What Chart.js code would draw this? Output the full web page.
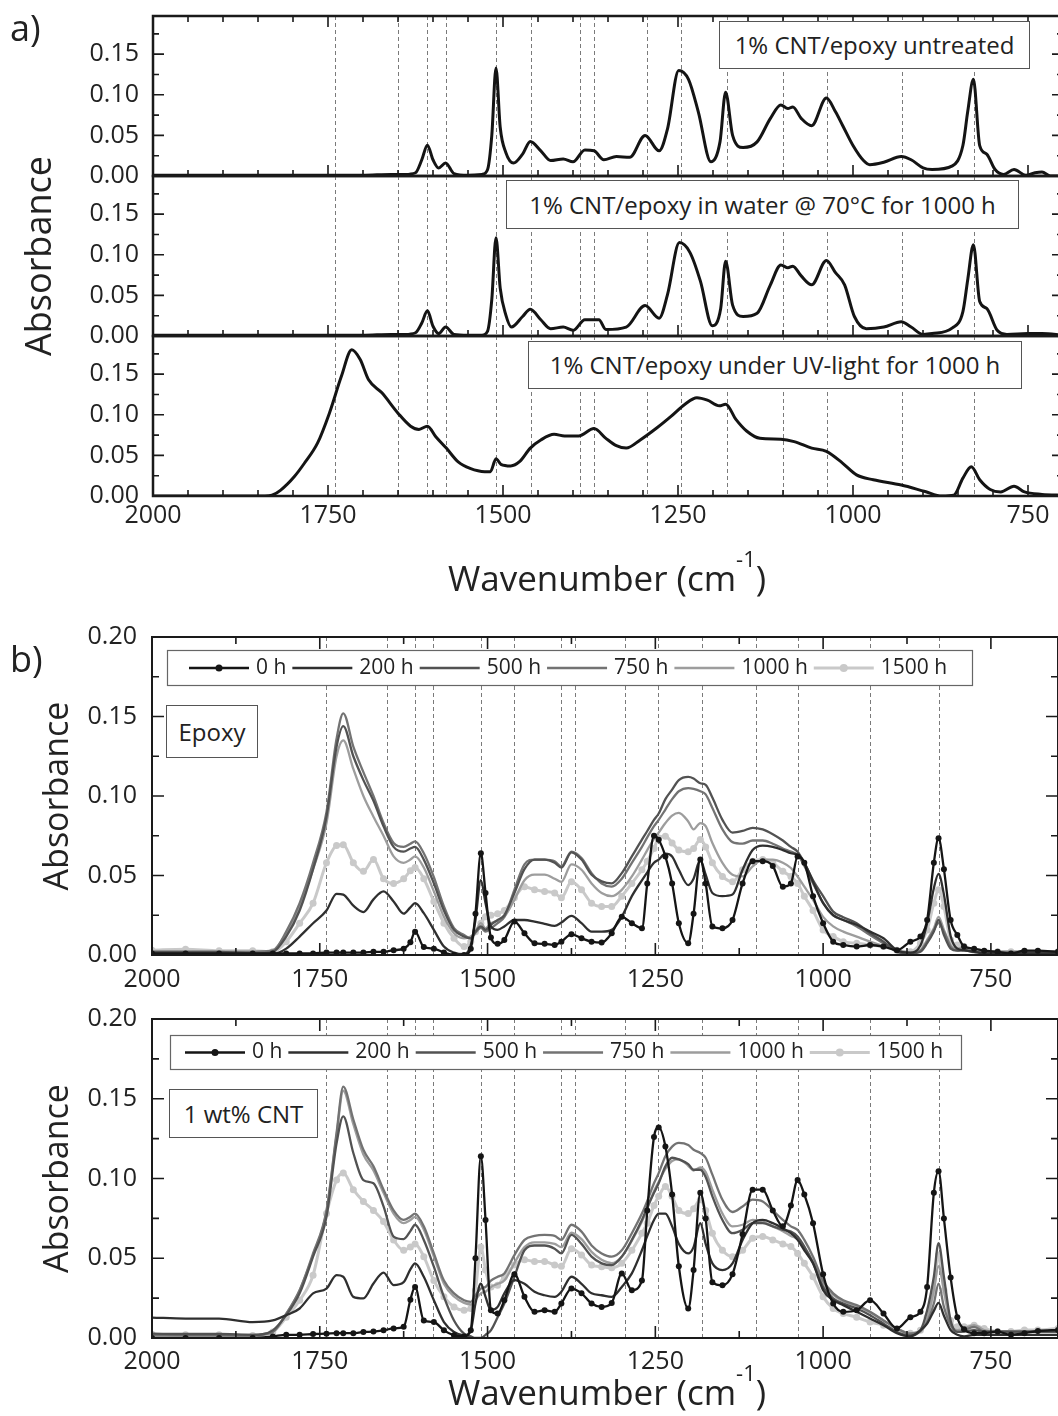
<!DOCTYPE html>
<html>
<head>
<meta charset="utf-8">
<script src="https://cdn.jsdelivr.net/npm/chart.js@4.4.0/dist/chart.umd.min.js"></script>
<style>
body { margin:0; width:1058px; height:1416px; overflow:hidden; background:#fff; position:relative; font-family:"Open Sans", sans-serif; color:#222; }
canvas { position:absolute; left:0; }
.tag { position:absolute; background:#fff; border:1.5px solid #555; box-sizing:border-box; font-size:24px; line-height:1; display:flex; align-items:center; justify-content:center; white-space:nowrap; }
.lbl { position:absolute; left:10px; font-size:36px; line-height:1; }
.xt { position:absolute; left:307px; width:600px; text-align:center; font-size:35px; line-height:1; white-space:nowrap; }
.xt span { font-size:22px; position:relative; top:-24px; }
</style>
</head>
<body>
<canvas id="a1" width="1063" height="240" style="top:-24px"></canvas>
<canvas id="a2" width="1063" height="240" style="top:136px"></canvas>
<canvas id="a3" width="1063" height="250" style="top:296px"></canvas>
<canvas id="b1" width="1062" height="408" style="top:597px"></canvas>
<canvas id="b2" width="1062" height="409" style="top:979px"></canvas>

<div class="lbl" style="top:10px">a)</div>
<div class="lbl" style="top:641px">b)</div>
<div class="tag" style="left:719px;top:21px;width:311px;height:48px">1% CNT/epoxy untreated</div>
<div class="tag" style="left:506px;top:180px;width:513px;height:49px">1% CNT/epoxy in water @ 70°C for 1000 h</div>
<div class="tag" style="left:528px;top:341px;width:494px;height:48px">1% CNT/epoxy under UV-light for 1000 h</div>
<div class="tag" style="left:166px;top:705px;width:92px;height:53px">Epoxy</div>
<div class="tag" style="left:169px;top:1089px;width:149px;height:49px">1 wt% CNT</div>
<div class="xt" style="top:560px">Wavenumber (cm<span>-1</span>)</div>
<div class="xt" style="top:1374px">Wavenumber (cm<span>-1</span>)</div>

<script>
// band positions (dashed guides) and tick labels
var bands = [1740, 1650, 1608, 1581, 1510, 1460, 1390, 1370, 1295, 1246, 1180, 1100, 1037, 930, 827];
var xTicks = [2000, 1750, 1500, 1250, 1000, 750];
var yTicksA = [0, 0.05, 0.10, 0.15];
var yTicksB = [0, 0.05, 0.10, 0.15, 0.20];

// panel a) spectra
var untreatedWn = [2000, 1900, 1800, 1700, 1660, 1640, 1625, 1616, 1608, 1600,
  1592, 1582, 1570, 1550, 1530, 1522, 1516, 1510, 1504, 1496,
  1485, 1472, 1461, 1446, 1432, 1414, 1400, 1383, 1370, 1356,
  1338, 1319, 1297, 1277, 1265, 1249, 1235, 1221, 1203, 1190,
  1182, 1172, 1157, 1137, 1118, 1103, 1093, 1086, 1074, 1059,
  1038, 1025, 1015, 1000, 985, 976, 956, 931, 917, 900,
  887, 858, 843, 836, 828, 819, 809, 797, 785, 770,
  753, 740, 730, 718, 700];
var untreatedAbs = [0.001, 0.001, 0.001, 0.001, 0.002, 0.002, 0.004, 0.02, 0.038, 0.02,
  0.01, 0.016, 0.003, 0.001, 0.002, 0.008, 0.05, 0.133, 0.06, 0.029,
  0.016, 0.027, 0.0425, 0.031, 0.019, 0.021, 0.0175, 0.032, 0.031, 0.02,
  0.024, 0.023, 0.05, 0.031, 0.058, 0.130, 0.119, 0.079, 0.0175, 0.042,
  0.103, 0.05, 0.035, 0.042, 0.071, 0.0875, 0.083, 0.085, 0.071, 0.062,
  0.096, 0.079, 0.0625, 0.0375, 0.019, 0.014, 0.017, 0.024, 0.02, 0.010,
  0.008, 0.0125, 0.0375, 0.08, 0.119, 0.0375, 0.027, 0.008, 0.002, 0.008,
  0.001, 0.004, 0.005, 0.0, 0.0];

var waterWn = [2000, 1900, 1800, 1700, 1660, 1640, 1625, 1616, 1608, 1600,
  1592, 1582, 1570, 1550, 1530, 1522, 1516, 1510, 1504, 1496,
  1488, 1472, 1461, 1446, 1432, 1414, 1400, 1383, 1363, 1353,
  1324, 1297, 1277, 1265, 1248, 1233, 1218, 1201, 1189, 1182,
  1172, 1157, 1137, 1118, 1103, 1093, 1086, 1074, 1059, 1038,
  1025, 1012, 998, 981, 956, 931, 917, 900, 887, 858,
  843, 836, 828, 819, 809, 794, 780, 750, 730, 700];
var waterAbs = [0.001, 0.001, 0.001, 0.001, 0.002, 0.002, 0.004, 0.016, 0.031, 0.012,
  0.003, 0.011, 0.002, 0.001, 0.001, 0.006, 0.045, 0.121, 0.059, 0.026,
  0.011, 0.024, 0.033, 0.02, 0.009, 0.011, 0.007, 0.02, 0.02, 0.008,
  0.011, 0.0375, 0.022, 0.051, 0.115, 0.103, 0.0675, 0.0125, 0.034, 0.092,
  0.038, 0.024, 0.028, 0.063, 0.0875, 0.084, 0.086, 0.074, 0.063, 0.093,
  0.078, 0.063, 0.024, 0.009, 0.011, 0.0175, 0.011, 0.002, 0.003, 0.01,
  0.03, 0.07, 0.1125, 0.0425, 0.034, 0.007, 0.002, 0.003, 0.003, 0.001];

var uvWn = [2000, 1900, 1840, 1830, 1818, 1798, 1784, 1765, 1748, 1731,
  1716, 1704, 1692, 1673, 1650, 1632, 1620, 1608, 1596, 1581,
  1564, 1547, 1526, 1518, 1510, 1503, 1489, 1476, 1461, 1446,
  1427, 1412, 1392, 1370, 1353, 1338, 1324, 1304, 1280, 1260,
  1240, 1223, 1208, 1191, 1182, 1167, 1152, 1133, 1103, 1084,
  1059, 1038, 1015, 995, 971, 931, 897, 873, 856, 843,
  831, 819, 804, 789, 770, 755, 730, 700];
var uvAbs = [0, 0, 0, 0.001, 0.007, 0.024, 0.04, 0.065, 0.102, 0.147,
  0.180, 0.168, 0.143, 0.127, 0.102, 0.086, 0.082, 0.086, 0.073, 0.059,
  0.042, 0.034, 0.03, 0.03, 0.046, 0.039, 0.037, 0.0425, 0.059, 0.069,
  0.076, 0.074, 0.074, 0.083, 0.071, 0.062, 0.059, 0.069, 0.084, 0.098,
  0.113, 0.121, 0.118, 0.111, 0.113, 0.094, 0.08, 0.071, 0.070, 0.067,
  0.059, 0.055, 0.0405, 0.026, 0.02, 0.0135, 0.0055, 0, 0.001, 0.022,
  0.036, 0.02, 0.008, 0.005, 0.012, 0.005, 0.002, 0.001];

// panel b) shared wavenumber grid
var bWn = [2000, 1950, 1900, 1850, 1820, 1800, 1780, 1760, 1740, 1725,
  1715, 1700, 1685, 1670, 1655, 1640, 1625, 1615, 1608, 1595,
  1580, 1565, 1550, 1535, 1525, 1518, 1510, 1503, 1495, 1485,
  1475, 1460, 1445, 1430, 1415, 1400, 1390, 1375, 1360, 1345,
  1330, 1315, 1300, 1285, 1270, 1262, 1252, 1245, 1235, 1225,
  1215, 1201, 1193, 1183, 1175, 1165, 1150, 1135, 1120, 1105,
  1090, 1075, 1060, 1048, 1038, 1028, 1015, 1000, 985, 970,
  950, 930, 910, 890, 870, 855, 845, 835, 828, 820,
  810, 800, 790, 775, 760, 740, 720, 700, 680, 650];

var seriesNames = ['0 h', '200 h', '500 h', '750 h', '1000 h', '1500 h'];

// Epoxy
var epoxy0h = [0.001, 0.001, 0.001, 0.001, 0.001, 0.001, 0.001, 0.001, 0.0015, 0.0015,
  0.0015, 0.0015, 0.0015, 0.002, 0.002, 0.003, 0.004, 0.008, 0.0147, 0.005,
  0.004, 0.0015, 0.0, 0.0, 0.004, 0.026, 0.064, 0.039, 0.011, 0.007,
  0.0095, 0.021, 0.0137, 0.0074, 0.007, 0.0063, 0.0084, 0.013, 0.0105, 0.0084,
  0.0078, 0.0137, 0.024, 0.02, 0.0168, 0.045, 0.075, 0.0725, 0.062, 0.045,
  0.02, 0.0074, 0.026, 0.06, 0.045, 0.018, 0.0168, 0.022, 0.045, 0.059,
  0.059, 0.056, 0.043, 0.045, 0.062, 0.058, 0.037, 0.02, 0.0084, 0.0063,
  0.0053, 0.0063, 0.0053, 0.003, 0.0084, 0.0116, 0.022, 0.058, 0.0735, 0.054,
  0.022, 0.0126, 0.0053, 0.004, 0.0027, 0.002, 0.001, 0.0027, 0.0027, 0.002];
var epoxy200h = [0.0005, 0.0005, 0.0005, 0.0005, 0.0006, 0.004, 0.0116, 0.02, 0.028, 0.0385,
  0.038, 0.031, 0.027, 0.035, 0.040, 0.0337, 0.026, 0.030, 0.0326, 0.0263,
  0.0158, 0.0053, 0.0015, 0.0005, 0.0063, 0.022, 0.047, 0.0326, 0.018, 0.0158,
  0.018, 0.022, 0.022, 0.021, 0.0196, 0.0183, 0.0204, 0.0246, 0.02, 0.0147,
  0.0147, 0.0158, 0.024, 0.037, 0.047, 0.052, 0.058, 0.06, 0.0637, 0.062,
  0.0536, 0.044, 0.048, 0.06, 0.0505, 0.039, 0.037, 0.038, 0.0536, 0.066,
  0.0688, 0.068, 0.066, 0.064, 0.063, 0.058, 0.046, 0.0326, 0.025, 0.022,
  0.019, 0.0147, 0.0105, 0.003, 0.0015, 0.006, 0.02, 0.042, 0.051, 0.038,
  0.012, 0.004, 0.003, 0.002, 0.001, 0.001, 0.001, 0.001, 0.001, 0.001];
var epoxy500h = [0.002, 0.002, 0.002, 0.001, 0.002, 0.0116, 0.028, 0.054, 0.087, 0.131,
  0.144, 0.125, 0.11, 0.097, 0.081, 0.068, 0.065, 0.067, 0.068, 0.06,
  0.045, 0.028, 0.0158, 0.0116, 0.0105, 0.0147, 0.018, 0.0158, 0.019, 0.022,
  0.025, 0.039, 0.054, 0.06, 0.06, 0.058, 0.055, 0.0646, 0.06, 0.0505,
  0.0463, 0.045, 0.0515, 0.062, 0.0726, 0.078, 0.085, 0.089, 0.098, 0.104,
  0.110, 0.112, 0.111, 0.108, 0.107, 0.099, 0.085, 0.077, 0.078, 0.080,
  0.079, 0.076, 0.072, 0.068, 0.065, 0.058, 0.047, 0.037, 0.0273, 0.0238,
  0.02, 0.0137, 0.0084, 0.002, 0.001, 0.002, 0.0074, 0.0147, 0.022, 0.0126,
  0.004, 0.0027, 0.003, 0.002, 0.001, 0.001, 0.001, 0.001, 0.001, 0.001];
var epoxy750h = [0.002, 0.002, 0.002, 0.002, 0.0027, 0.0147, 0.0326, 0.058, 0.09, 0.136,
  0.152, 0.131, 0.115, 0.10, 0.083, 0.0705, 0.068, 0.070, 0.0715, 0.064,
  0.049, 0.0305, 0.0168, 0.0126, 0.0105, 0.014, 0.017, 0.0147, 0.0168, 0.02,
  0.024, 0.041, 0.057, 0.06, 0.06, 0.059, 0.0557, 0.065, 0.061, 0.0515,
  0.045, 0.043, 0.048, 0.058, 0.068, 0.074, 0.081, 0.085, 0.0915, 0.098,
  0.103, 0.105, 0.1045, 0.103, 0.101, 0.0925, 0.079, 0.071, 0.070, 0.072,
  0.072, 0.070, 0.067, 0.065, 0.063, 0.056, 0.045, 0.033, 0.025, 0.022,
  0.018, 0.0126, 0.0074, 0.0027, 0.001, 0.0027, 0.0084, 0.0158, 0.020, 0.0147,
  0.0053, 0.003, 0.003, 0.002, 0.002, 0.002, 0.002, 0.002, 0.002, 0.002];
var epoxy1000h = [0.002, 0.002, 0.002, 0.002, 0.003, 0.0137, 0.0305, 0.054, 0.083, 0.125,
  0.135, 0.117, 0.10, 0.087, 0.075, 0.062, 0.058, 0.060, 0.062, 0.055,
  0.04, 0.024, 0.0137, 0.0105, 0.0116, 0.0147, 0.02, 0.0168, 0.02, 0.0217,
  0.024, 0.0347, 0.047, 0.0505, 0.0505, 0.048, 0.046, 0.057, 0.0536, 0.045,
  0.039, 0.037, 0.041, 0.0494, 0.06, 0.066, 0.073, 0.077, 0.083, 0.0877,
  0.0894, 0.084, 0.079, 0.083, 0.081, 0.0705, 0.058, 0.0505, 0.0494, 0.0557,
  0.06, 0.06, 0.058, 0.0547, 0.0494, 0.043, 0.0347, 0.024, 0.018, 0.0147,
  0.0116, 0.0084, 0.0057, 0.003, 0.0015, 0.003, 0.0095, 0.0168, 0.024, 0.0158,
  0.0063, 0.004, 0.005, 0.003, 0.002, 0.002, 0.002, 0.002, 0.002, 0.002];
var epoxy1500h = [0.003, 0.0036, 0.0027, 0.0027, 0.002, 0.0084, 0.02, 0.0326, 0.058, 0.0688,
  0.0694, 0.058, 0.0526, 0.06, 0.048, 0.045, 0.048, 0.053, 0.055, 0.048,
  0.0337, 0.02, 0.0105, 0.0053, 0.0084, 0.0147, 0.02, 0.024, 0.025, 0.026,
  0.028, 0.036, 0.043, 0.041, 0.04, 0.039, 0.036, 0.046, 0.041, 0.0326,
  0.0305, 0.0305, 0.037, 0.045, 0.0536, 0.059, 0.067, 0.0736, 0.0747, 0.0705,
  0.066, 0.065, 0.067, 0.0726, 0.068, 0.058, 0.0494, 0.046, 0.0536, 0.059,
  0.06, 0.058, 0.0526, 0.0494, 0.045, 0.037, 0.028, 0.0158, 0.0116, 0.0084,
  0.0074, 0.0063, 0.0053, 0.003, 0.002, 0.0074, 0.0158, 0.0326, 0.041, 0.0305,
  0.0095, 0.0063, 0.0053, 0.003, 0.002, 0.002, 0.002, 0.002, 0.002, 0.002];

// 1 wt% CNT
var cnt0h = [0, 0, 0, 0, 0.001, 0.002, 0.002, 0.0025, 0.0027, 0.003,
  0.003, 0.003, 0.0038, 0.004, 0.0048, 0.006, 0.007, 0.024, 0.032, 0.011,
  0.01, 0.0048, 0.0017, 0.001, 0.0048, 0.05, 0.114, 0.074, 0.0174, 0.0153,
  0.0237, 0.04, 0.0258, 0.0164, 0.0174, 0.0164, 0.0216, 0.031, 0.028, 0.0216,
  0.0195, 0.022, 0.0405, 0.03, 0.036, 0.08, 0.126, 0.132, 0.12, 0.09,
  0.045, 0.0185, 0.0426, 0.091, 0.075, 0.035, 0.033, 0.04, 0.065, 0.093,
  0.093, 0.08, 0.07, 0.083, 0.099, 0.09, 0.072, 0.04, 0.0216, 0.0164,
  0.0174, 0.0237, 0.0153, 0.006, 0.013, 0.0164, 0.032, 0.091, 0.1046, 0.075,
  0.038, 0.013, 0.0055, 0.003, 0.003, 0.004, 0.002, 0.003, 0.0044, 0.005];
var cnt200h = [0.0128, 0.0122, 0.0122, 0.010, 0.011, 0.0143, 0.0185, 0.028, 0.031, 0.0394,
  0.0384, 0.0258, 0.0248, 0.0342, 0.041, 0.0332, 0.035, 0.043, 0.0468, 0.0384,
  0.0237, 0.01, 0.0038, 0.0017, 0.0048, 0.0216, 0.034, 0.0258, 0.0174, 0.0195,
  0.028, 0.0363, 0.034, 0.029, 0.0268, 0.0258, 0.029, 0.0384, 0.034, 0.028,
  0.0268, 0.0258, 0.032, 0.0405, 0.055, 0.064, 0.074, 0.078, 0.078, 0.07,
  0.059, 0.053, 0.057, 0.072, 0.059, 0.0468, 0.0426, 0.0468, 0.0615, 0.072,
  0.074, 0.072, 0.0688, 0.0657, 0.0615, 0.055, 0.0468, 0.03, 0.0237, 0.0206,
  0.0164, 0.0122, 0.008, 0.003, 0.001, 0.0048, 0.009, 0.017, 0.022, 0.014,
  0.005, 0.002, 0.001, 0.002, 0.002, 0.002, 0.002, 0.002, 0.002, 0.002];
var cnt500h = [0.0027, 0.0025, 0.0025, 0.002, 0.0048, 0.0143, 0.028, 0.051, 0.076, 0.122,
  0.139, 0.116, 0.099, 0.097, 0.0825, 0.0636, 0.062, 0.067, 0.071, 0.0615,
  0.0447, 0.0258, 0.011, 0.0027, 0.001, 0, 0, 0.002, 0.0048, 0.013,
  0.0216, 0.0384, 0.055, 0.058, 0.058, 0.056, 0.053, 0.0646, 0.059, 0.051,
  0.0468, 0.0457, 0.051, 0.0615, 0.074, 0.082, 0.091, 0.097, 0.1076, 0.113,
  0.112, 0.109, 0.1055, 0.1055, 0.101, 0.0888, 0.074, 0.0657, 0.0678, 0.072,
  0.072, 0.07, 0.0678, 0.0667, 0.0636, 0.0573, 0.0468, 0.032, 0.0248, 0.0216,
  0.0185, 0.0143, 0.009, 0.0038, 0.0017, 0.0048, 0.0174, 0.0384, 0.0595, 0.0384,
  0.011, 0.0038, 0.004, 0.005, 0.004, 0.004, 0.004, 0.004, 0.004, 0.004];
var cnt750h = [0.0017, 0.0017, 0.0017, 0.0017, 0.0038, 0.0153, 0.03, 0.053, 0.08, 0.1286,
  0.1576, 0.137, 0.118, 0.1076, 0.093, 0.08, 0.074, 0.076, 0.078, 0.07,
  0.053, 0.036, 0.028, 0.0237, 0.0227, 0.0268, 0.031, 0.032, 0.036, 0.0384,
  0.0405, 0.052, 0.0615, 0.064, 0.0646, 0.064, 0.0615, 0.071, 0.0667, 0.058,
  0.053, 0.051, 0.055, 0.0657, 0.078, 0.086, 0.097, 0.1034, 0.114, 0.12,
  0.1223, 0.121, 0.118, 0.116, 0.113, 0.1024, 0.0867, 0.079, 0.0825, 0.0867,
  0.0856, 0.08, 0.074, 0.07, 0.0678, 0.0615, 0.051, 0.036, 0.028, 0.0237,
  0.0206, 0.0164, 0.011, 0.006, 0.0027, 0.0044, 0.01, 0.0216, 0.034, 0.0195,
  0.008, 0.0038, 0.0048, 0.007, 0.004, 0.004, 0.004, 0.004, 0.004, 0.004];
var cnt1000h = [0.002, 0.002, 0.002, 0.002, 0.004, 0.015, 0.03, 0.052, 0.079, 0.127,
  0.155, 0.134, 0.115, 0.105, 0.091, 0.078, 0.072, 0.074, 0.076, 0.068,
  0.051, 0.034, 0.026, 0.022, 0.021, 0.024, 0.028, 0.029, 0.032, 0.034,
  0.036, 0.047, 0.057, 0.060, 0.060, 0.059, 0.057, 0.066, 0.062, 0.054,
  0.049, 0.047, 0.051, 0.061, 0.073, 0.081, 0.092, 0.098, 0.106, 0.111,
  0.112, 0.108, 0.105, 0.107, 0.104, 0.093, 0.078, 0.07, 0.071, 0.074,
  0.073, 0.07, 0.067, 0.064, 0.062, 0.057, 0.048, 0.034, 0.027, 0.023,
  0.02, 0.016, 0.011, 0.006, 0.003, 0.004, 0.012, 0.03, 0.045, 0.03,
  0.009, 0.005, 0.006, 0.008, 0.005, 0.004, 0.004, 0.004, 0.004, 0.004];
var cnt1500h = [0.0023, 0.002, 0.002, 0.0015, 0.0038, 0.013, 0.0237, 0.0394, 0.078, 0.099,
  0.1034, 0.093, 0.0856, 0.08, 0.073, 0.0615, 0.055, 0.057, 0.059, 0.051,
  0.036, 0.0258, 0.0195, 0.0174, 0.0185, 0.03, 0.057, 0.0426, 0.032, 0.033,
  0.0384, 0.0457, 0.049, 0.048, 0.048, 0.0457, 0.045, 0.056, 0.052, 0.0457,
  0.0447, 0.044, 0.0468, 0.055, 0.0657, 0.072, 0.083, 0.0888, 0.095, 0.0888,
  0.08, 0.078, 0.081, 0.0867, 0.08, 0.0657, 0.055, 0.051, 0.055, 0.0625,
  0.0636, 0.0615, 0.059, 0.0573, 0.053, 0.0468, 0.0384, 0.0258, 0.0185, 0.0153,
  0.013, 0.01, 0.008, 0.0048, 0.003, 0.0048, 0.013, 0.03, 0.052, 0.03,
  0.011, 0.007, 0.007, 0.008, 0.006, 0.004, 0.004, 0.005, 0.005, 0.006];

var seriesColors = ['#151515', '#2f2f2f', '#525252', '#737373', '#9d9d9d', '#c9c9c9'];

Chart.defaults.font.family = '"Open Sans", sans-serif';
Chart.defaults.color = '#222';

// frame, inward ticks, dashed band guides and boxed legend
var specFrame = {
  id: 'specFrame',
  beforeDatasetsDraw: function(chart, args, o) {
    var ctx = chart.ctx, a = chart.chartArea, x = chart.scales.x;
    ctx.save();
    ctx.strokeStyle = '#7a7a7a';
    ctx.lineWidth = 1;
    ctx.setLineDash([4, 3]);
    bands.forEach(function(b) {
      var px = Math.round(x.getPixelForValue(b)) + 0.5;
      ctx.beginPath(); ctx.moveTo(px, a.top); ctx.lineTo(px, a.bottom); ctx.stroke();
    });
    ctx.restore();
  },
  afterDatasetsDraw: function(chart, args, o) {
    var L = o.legend;
    if (!L) return;
    var ctx = chart.ctx, a = chart.chartArea;
    var bx = a.left + L.dx, by = a.top + L.dy;
    ctx.save();
    ctx.fillStyle = '#fff';
    ctx.fillRect(bx, by, L.w, L.h);
    ctx.strokeStyle = '#666'; ctx.lineWidth = 1.2;
    ctx.strokeRect(bx + 0.5, by + 0.5, L.w, L.h);
    ctx.font = '21px "Open Sans"';
    ctx.textBaseline = 'middle';
    var cx = bx + L.pad, cy = by + L.h / 2 + 0.5;
    chart.data.datasets.forEach(function(ds) {
      ctx.strokeStyle = ds.borderColor; ctx.lineWidth = ds.borderWidth;
      ctx.beginPath(); ctx.moveTo(cx, cy); ctx.lineTo(cx + 60, cy); ctx.stroke();
      if (ds.pointRadius > 0) {
        ctx.fillStyle = ds.pointBackgroundColor;
        ctx.beginPath(); ctx.arc(cx + 30, cy, ds.pointRadius + 0.5, 0, Math.PI * 2); ctx.fill();
      }
      ctx.fillStyle = '#222';
      ctx.fillText(ds.label, cx + 67, cy);
      cx += 67 + ctx.measureText(ds.label).width + 6;
    });
    ctx.restore();
  },
  afterDraw: function(chart, args, o) {
    var ctx = chart.ctx, a = chart.chartArea, x = chart.scales.x, y = chart.scales.y;
    ctx.save();
    ctx.strokeStyle = '#1a1a1a';
    ctx.lineWidth = 1.6;
    ctx.beginPath();
    for (var v = 2000; v >= x.min - 1e-6; v -= o.xMinor) {
      var len = (v % o.xMajor === 0) ? o.major : o.minor;
      var px = x.getPixelForValue(v);
      ctx.moveTo(px, a.bottom); ctx.lineTo(px, a.bottom - len);
      if (o.topTicks) { ctx.moveTo(px, a.top); ctx.lineTo(px, a.top + len); }
    }
    var n = Math.floor(y.max / o.yMinor + 1e-6);
    for (var i = 1; i <= n; i++) {
      var val = i * o.yMinor;
      var ylen = (i % 2 === 0) ? o.major : o.minor;
      var py = y.getPixelForValue(val);
      ctx.moveTo(a.left, py); ctx.lineTo(a.left + ylen, py);
      ctx.moveTo(a.right, py); ctx.lineTo(a.right - ylen, py);
    }
    ctx.stroke();
    ctx.lineWidth = o.frame;
    ctx.strokeRect(a.left, a.top, a.right - a.left, a.bottom - a.top);
    ctx.restore();
  }
};

function toPoints(wn, vals) {
  return wn.map(function(w, k) { return {x: w, y: vals[k]}; });
}

function spectrum(wn, vals) {
  return { label: '', data: toPoints(wn, vals), borderColor: '#141414', borderWidth: 3, pointRadius: 0 };
}

function series(i, wn, vals) {
  var marked = (i === 0 || i === 5);
  return {
    label: seriesNames[i],
    data: toPoints(wn, vals),
    borderColor: seriesColors[i],
    backgroundColor: seriesColors[i],
    pointBackgroundColor: seriesColors[i],
    borderWidth: i === 5 ? 3 : 2.3,
    pointRadius: marked ? (i === 5 ? 3.5 : 3) : 0,
    pointBorderWidth: 0
  };
}

function makeChart(id, datasets, o) {
  return new Chart(document.getElementById(id), {
    type: 'line',
    data: { datasets: datasets },
    options: {
      responsive: false,
      animation: false,
      devicePixelRatio: 1,
      layout: { padding: { top: 40, bottom: o.showX ? 0 : 40, left: 0, right: 0 } },
      elements: { line: { cubicInterpolationMode: 'monotone' } },
      plugins: { legend: { display: false }, tooltip: { enabled: false }, specFrame: o.frame },
      scales: {
        x: {
          type: 'linear', reverse: true, min: o.xMin, max: 2000, display: o.showX,
          grid: { display: false, drawTicks: false }, border: { display: false },
          afterBuildTicks: function(s) { s.ticks = xTicks.map(function(v) { return {value: v}; }); },
          afterFit: function(s) { s.height = o.showX ? 50 : 0; },
          ticks: { autoSkip: false, maxRotation: 0, padding: o.xPad, font: { size: 25 }, color: '#222',
                   callback: function(v) { return String(v); } }
        },
        y: {
          min: 0, max: o.yMax,
          grid: { display: false, drawTicks: false }, border: { display: false },
          afterBuildTicks: function(s) { s.ticks = o.yTicks.map(function(v) { return {value: v}; }); },
          afterFit: function(s) { s.width = o.left; },
          ticks: { autoSkip: false, padding: o.yPad, font: { size: 25 }, color: '#222',
                   callback: function(v) { return v.toFixed(2); } },
          title: o.yTitle ? { display: true, text: 'Absorbance', color: '#222',
                   font: { size: o.yTitle.size, lineHeight: 1 }, padding: { top: o.yTitle.pad, bottom: 0 } }
                 : { display: false }
        }
      }
    },
    plugins: [specFrame]
  });
}

var frameA = function(top) { return { frame: 2.5, major: 11, minor: 6, xMajor: 250, xMinor: 50, yMinor: 0.025, topTicks: top }; };
var baseA = { xMin: 700, yMax: 0.197, yTicks: yTicksA, left: 153, yPad: 14, xPad: 5 };

makeChart('a1', [spectrum(untreatedWn, untreatedAbs)],
  Object.assign({}, baseA, { showX: false, frame: frameA(true) }));
makeChart('a2', [spectrum(waterWn, waterAbs)],
  Object.assign({}, baseA, { showX: false, frame: frameA(false), yTitle: { size: 36, pad: 23 } }));
makeChart('a3', [spectrum(uvWn, uvAbs)],
  Object.assign({}, baseA, { showX: true, frame: frameA(false) }));

var epoxySets = [epoxy0h, epoxy200h, epoxy500h, epoxy750h, epoxy1000h, epoxy1500h];
var cntSets = [cnt0h, cnt200h, cnt500h, cnt750h, cnt1000h, cnt1500h];

var frameB = function(leg) { return { frame: 2, major: 12, minor: 7, xMajor: 250, xMinor: 125, yMinor: 0.025, topTicks: true, legend: leg }; };
var baseB = { xMin: 650, yMax: 0.2, yTicks: yTicksB, left: 152, yPad: 15, showX: true, yTitle: { size: 34, pad: 41 } };

makeChart('b1', epoxySets.map(function(v, i) { return series(i, bWn, v); }),
  Object.assign({}, baseB, { xPad: 10, frame: frameB({ dx: 15, dy: 13, w: 805, h: 35, pad: 22 }) }));
makeChart('b2', cntSets.map(function(v, i) { return series(i, bWn, v); }),
  Object.assign({}, baseB, { xPad: 9, frame: frameB({ dx: 18, dy: 16, w: 791, h: 34, pad: 15 }) }));
</script>
</body>
</html>
